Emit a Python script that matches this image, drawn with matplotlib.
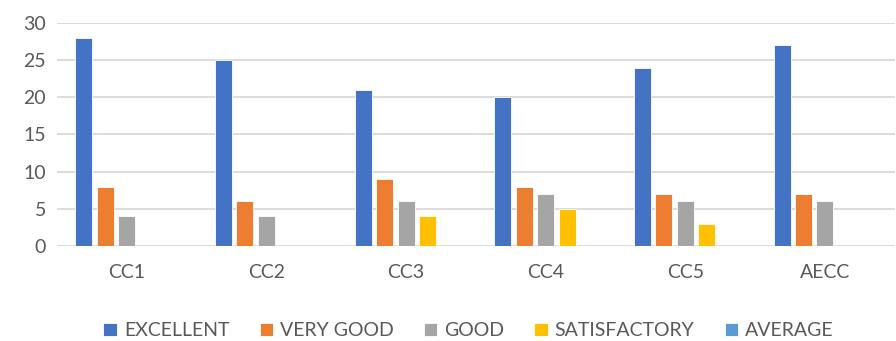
import numpy as np
import matplotlib
matplotlib.use("Agg")
import matplotlib.pyplot as plt

categories = ["CC1", "CC2", "CC3", "CC4", "CC5", "AECC"]
series_names = ["EXCELLENT", "VERY GOOD", "GOOD", "SATISFACTORY", "AVERAGE"]
excellent = [28, 25, 21, 20, 24, 27]
very_good = [8, 6, 9, 8, 7, 7]
good = [4, 4, 6, 7, 6, 6]
satisfactory = [0, 0, 4, 5, 3, 0]
average = [0, 0, 0, 0, 0, 0]
colors = ["#4472C4", "#ED7D31", "#A5A5A5", "#FFC000", "#5B9BD5"]

plt.rcParams['font.family'] = ['Lato', 'DejaVu Sans']

fig = plt.figure(figsize=(8.96, 3.41), dpi=100)
ax = fig.add_axes([0.0636, 0.2786, 0.935, 0.654])

x = np.arange(len(categories))
step = 0.1536
width = 0.122
all_series = [excellent, very_good, good, satisfactory, average]
for i, (name, vals) in enumerate(zip(series_names, all_series)):
    ax.bar(x + (i - 2) * step, vals, width, color=colors[i], label=name,
           edgecolor="white", linewidth=0.6, zorder=3)

ax.set_xlim(-0.5, len(categories) - 0.5)
ax.set_ylim(0, 30)
ax.set_yticks(range(0, 31, 5))
ax.yaxis.grid(True, color="#D9D9D9", linewidth=1.3, zorder=0)
ax.set_axisbelow(True)
for s in ["top", "right", "left", "bottom"]:
    ax.spines[s].set_visible(False)
ax.tick_params(axis="both", length=0, labelsize=14, colors="#595959", pad=8)
ax.tick_params(axis="x", pad=13)
ax.set_xticks(x)
ax.set_xticklabels(categories)

leg = fig.legend(loc="center", bbox_to_anchor=(0.523, 0.03), ncol=5, frameon=False,
                 fontsize=14, handlelength=0.7, handleheight=0.7,
                 handletextpad=0.35, columnspacing=1.55)
for t in leg.get_texts():
    t.set_color("#595959")

fig.savefig("out.png", dpi=100)
